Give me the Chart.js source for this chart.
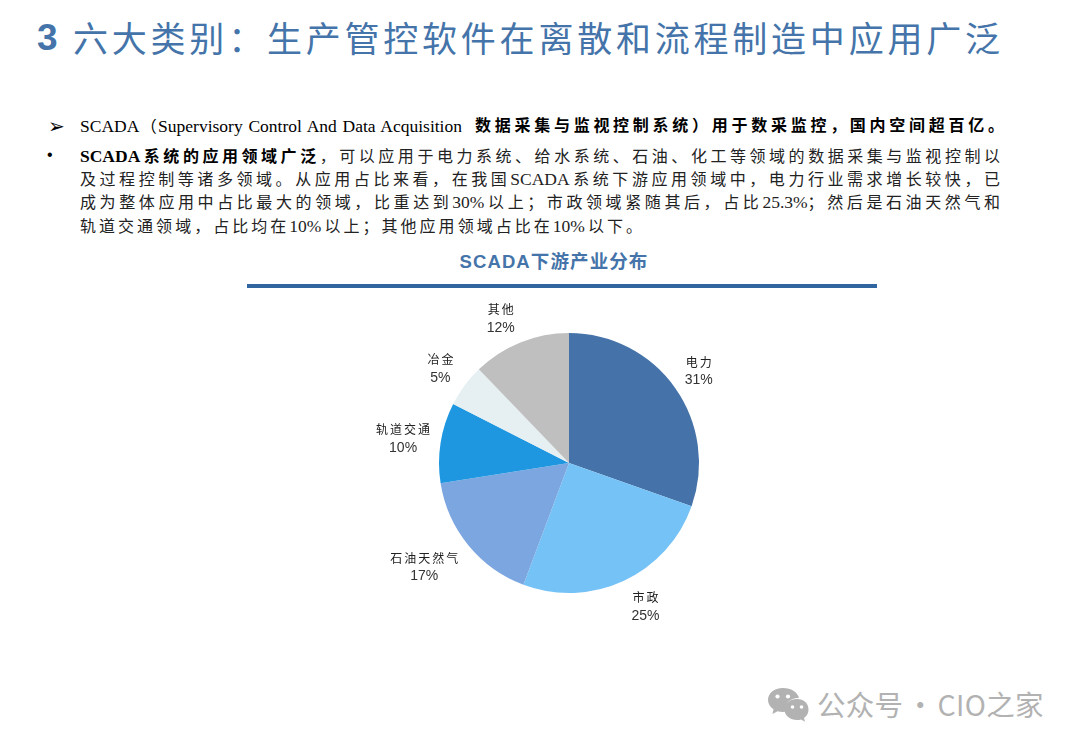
<!DOCTYPE html>
<html lang="zh">
<head>
<meta charset="utf-8">
<title>SCADA下游产业分布</title>
<script src="https://cdn.jsdelivr.net/npm/chart.js@4"></script>
<style>
    html, body { margin: 0; padding: 0; background: #fff; }
    #page { position: relative; width: 1080px; height: 748px; overflow: hidden; font-family: "Liberation Serif", "Noto Sans CJK SC", serif; color: #111; }
    #page > div, #page > svg, #page > canvas { position: absolute; }
    .title { color: #4474a9; font-size: 35px; line-height: 40px; font-family: "Noto Sans CJK SC", sans-serif; }
    .line { left: 80px; width: 920px; height: 24px; line-height: 24px; font-size: 16px; white-space: nowrap; text-align: justify; text-align-last: justify; color: #222; }
    .line b { color: #000; }
    .la { font-size: 17.500px; }
    #subTitle { left: 247px; width: 614px; top: 250px; text-align: center; color: #4474a9; font: 700 18.500px/24px "Liberation Sans", "Noto Sans CJK SC", sans-serif; letter-spacing: 1.100px; }
    #rule { left: 247px; top: 284px; width: 630px; height: 4px; background: #30659f; }
    #mark { left: 817px; top: 686px; font: 400 28.500px/36px "Noto Sans CJK SC", sans-serif; color: #b2b2b2; white-space: nowrap; word-spacing: -4px; letter-spacing: 0.300px; }
</style>
</head>
<body>
<div id="page">
    <div class="title" style="left:37px;top:18px;font:700 37px/40px 'Liberation Sans',sans-serif">3</div>
    <div class="title" id="mainTitle" style="left:73px;top:17px;width:927px;text-align-last:justify">六大类别&#xFF1A;生产管控软件在离散和流程制造中应用广泛</div>

    <div style="left:48px;top:115px;font:20px/22px 'DejaVu Sans',sans-serif;color:#000">➢</div>
    <div class="line" style="top:114px;width:382px;color:#000"><span class="la">SCADA</span>&#xFF08;<span class="la">Supervisory Control And Data Acquisition</span></div>
    <div class="line" style="top:114px;left:475px;width:529px;color:#000"><b>数据采集与监视控制系统&#xFF09;用于数采监控&#xFF0C;国内空间超百亿&#x3002;</b></div>
    <div style="left:47px;top:144px;font:16px/22px 'Liberation Sans',sans-serif;color:#000">•</div>
    <div class="line" style="top:144px"><b><span class="la">SCADA</span>系统的应用领域广泛</b>&#xFF0C;可以应用于电力系统&#x3001;给水系统&#x3001;石油&#x3001;化工等领域的数据采集与监视控制以</div>
    <div class="line" style="top:167px">及过程控制等诸多领域&#x3002;从应用占比来看&#xFF0C;在我国<span class="la">SCADA</span>系统下游应用领域中&#xFF0C;电力行业需求增长较快&#xFF0C;已</div>
    <div class="line" style="top:190px">成为整体应用中占比最大的领域&#xFF0C;比重达到<span class="la">30%</span>以上&#xFF1B;市政领域紧随其后&#xFF0C;占比<span class="la">25.3%</span>&#xFF1B;然后是石油天然气和</div>
    <div class="line" style="top:214px;width:562px">轨道交通领域&#xFF0C;占比均在<span class="la">10%</span>以上&#xFF1B;其他应用领域占比在<span class="la">10%</span>以下&#x3002;</div>

    <div id="subTitle">SCADA下游产业分布</div>
    <div id="rule"></div>
    <canvas id="pieChart" width="600" height="400" style="left:269px;top:263px;width:600px;height:400px"></canvas>

    <svg style="left:766px;top:686px" width="44" height="36" viewBox="0 0 44 36">
        <path fill="#b2b2b2" d="M17 2C8 2 2 7.500 2 14c0 4 2.300 7 5.500 9.300L6.500 28l5-2.800c1.700.5 3.400.7 5.500.7 1 0 1.500 0 2.500-.1C18 17 25 11.500 33 12 31.500 6 25 2 17 2z"/>
        <path fill="#b2b2b2" d="M31 13c-7 0-12.500 4.600-12.500 10.500S24 34 31 34c1.500 0 2.800-.2 4-.6l4 2.300-1-3.800c3-2 4.500-4.800 4.500-8.400C42.500 17.600 38 13 31 13z"/>
        <g fill="#fff"><circle cx="11.500" cy="10.500" r="2.100"/><circle cx="22" cy="10.500" r="2.100"/><circle cx="26.500" cy="21" r="1.800"/><circle cx="35.500" cy="21" r="1.800"/></g>
    </svg>
    <div id="mark">公众号 · CIO之家</div>
</div>

<script>
// Slice sizes; the printed percentages are kept separately
const categories = ['电力', '市政', '石油天然气', '轨道交通', '冶金', '其他'];
const shares = [30.4, 25.3, 16.8, 10, 5.3, 12.2];
const percentLabels = ['31%', '25%', '17%', '10%', '5%', '12%'];
const sliceColors = ['#4573a9', '#75c2f6', '#7ca6e0', '#1f97e0', '#e6eff1', '#bfbfbf'];

// Distance from the rim to the middle of each label, then a small hand nudge
const labelGaps = [29, 32, 48, 38, 30, 31];
const labelNudges = [[0, 0], [8, -3], [-7, -8], [0, 2], [0, 1], [-8, 5]];

const outsideLabels = {
    id: 'outsideLabels',
    afterDatasetsDraw(chart) {
        const ctx = chart.ctx;
        ctx.save();
        ctx.textAlign = 'center';
        ctx.textBaseline = 'middle';
        chart.getDatasetMeta(0).data.forEach((arc, i) => {
            const mid = (arc.startAngle + arc.endAngle) / 2;
            const r = arc.outerRadius + labelGaps[i];
            const x = arc.x + Math.cos(mid) * r + labelNudges[i][0];
            const y = arc.y + Math.sin(mid) * r + labelNudges[i][1];
            ctx.fillStyle = '#222';
            ctx.font = '12px "Noto Sans CJK SC", sans-serif';
            ctx.letterSpacing = '2px';
            ctx.fillText(categories[i], x + 1, y - 9);
            ctx.fillStyle = '#333';
            ctx.font = '14px "Liberation Sans", sans-serif';
            ctx.letterSpacing = '0px';
            ctx.fillText(percentLabels[i], x, y + 9);
        });
        ctx.restore();
    }
};

new Chart(document.getElementById('pieChart'), {
    type: 'pie',
    data: {
        labels: categories,
        datasets: [{
            data: shares,
            backgroundColor: sliceColors,
            borderWidth: 0
        }]
    },
    options: {
        responsive: false,
        animation: false,
        layout: { padding: 70 },
        plugins: {
            legend: { display: false },
            tooltip: { enabled: false }
        }
    },
    plugins: [outsideLabels]
});
</script>
</body>
</html>
